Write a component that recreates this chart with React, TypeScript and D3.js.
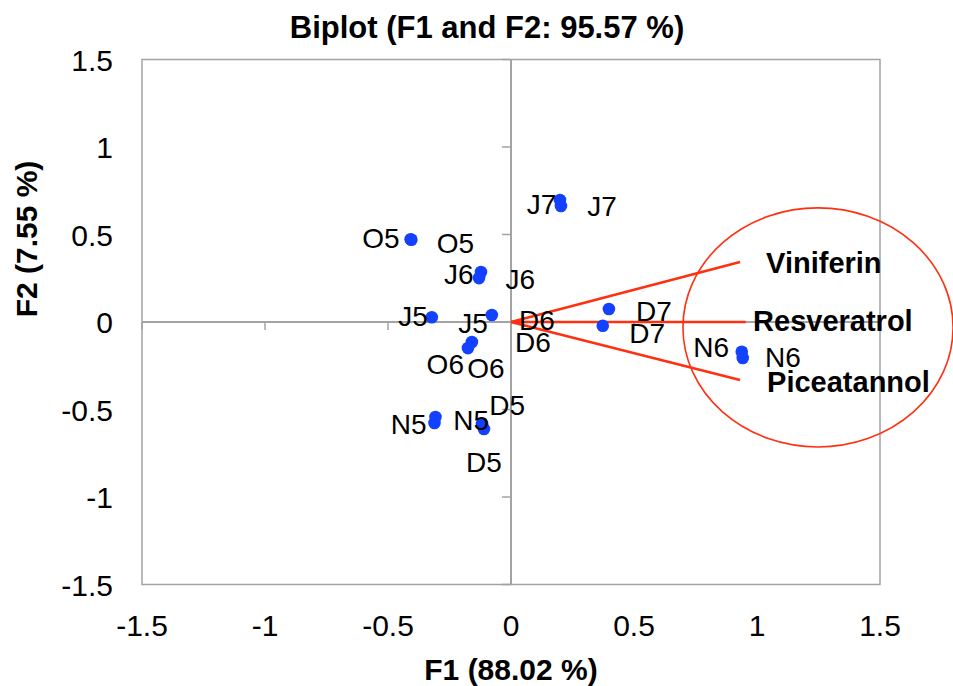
import React from "react";
import * as d3 from "d3";

// Observations (F1, F2 scores)
const obsNames = ["O5", "O5", "J7", "J7", "J6", "J6", "J5", "J5", "O6", "O6", "N5", "N5", "D5", "D5", "D7", "D7", "N6", "N6"];
const obsF1 = [-0.408, -0.405, 0.199, 0.203, -0.122, -0.130, -0.322, -0.078, -0.159, -0.175, -0.307, -0.311, -0.118, -0.110, 0.398, 0.373, 0.938, 0.942];
const obsF2 = [0.473, 0.470, 0.697, 0.663, 0.286, 0.251, 0.027, 0.040, -0.114, -0.149, -0.543, -0.577, -0.583, -0.611, 0.074, -0.021, -0.170, -0.206];

// Observation label anchors (data coordinates)
const labelTexts = ["O5", "O5", "J7", "J7", "J6", "J6", "J5", "J5", "D6", "D6", "O6", "O6", "D5", "D5", "N5", "N5", "D7", "D7", "N6", "N6"];
const labelF1 = [-0.605, -0.302, 0.064, 0.310, -0.272, -0.022, -0.458, -0.214, 0.033, 0.016, -0.343, -0.178, -0.088, -0.183, -0.489, -0.235, 0.508, 0.481, 0.741, 1.033];
const labelF2 = [0.423, 0.396, 0.615, 0.606, 0.217, 0.187, -0.023, -0.065, -0.046, -0.173, -0.299, -0.322, -0.531, -0.859, -0.642, -0.617, 0.007, -0.122, -0.202, -0.259];

// Variables (loadings)
const varNames = ["Viniferin", "Resveratrol", "Piceatannol"];
const varF1 = [0.931, 0.954, 0.931];
const varF2 = [0.343, 0.0, -0.331];
const varLabelF1 = [1.037, 0.984, 1.041];
const varLabelF2 = [0.28, -0.051, -0.40];

// Highlight ellipse (data coordinates)
const ellipseCenter = [1.248, -0.031];
const ellipseRadii = [0.549, 0.683];

const ticks = [-1.5, -1, -0.5, 0, 0.5, 1, 1.5];

const W = 953;
const H = 686;
const left = 142, right = 880, top = 59.5, bottom = 584.5;

const font = "'Liberation Sans', Arial, Helvetica, sans-serif";
const blue = "#1440ff";
const red = "#ff3010";
const grey = "#a3a3a3";

export default function App() {
  const x = d3.scaleLinear().domain([-1.5, 1.5]).range([left, right]);
  const y = d3.scaleLinear().domain([-1.5, 1.5]).range([bottom, top]);
  const fmt = (v: number) => String(v);

  return (
    <svg width={W} height={H} style={{ position: "absolute", left: 0, top: 0, background: "#fff" }} fontFamily={font}>
      <rect x={0} y={0} width={W} height={H} fill="#fff" />
      {/* plot border */}
      <rect x={left} y={top} width={right - left} height={bottom - top} fill="none" stroke={grey} strokeWidth={1.5} />
      {/* zero axes */}
      <line x1={x(-1.5)} x2={x(1.5)} y1={y(0)} y2={y(0)} stroke={grey} strokeWidth={2} />
      <line x1={x(0)} x2={x(0)} y1={y(-1.5)} y2={y(1.5)} stroke={grey} strokeWidth={2} />
      {ticks.map((t) => (
        <g key={"t" + t}>
          <line x1={x(t)} x2={x(t)} y1={y(0)} y2={y(0) + 8} stroke={grey} strokeWidth={1.5} />
          <line x1={x(0) - 9} x2={x(0)} y1={y(t)} y2={y(t)} stroke={grey} strokeWidth={1.5} />
          <text x={x(t)} y={636} textAnchor="middle" fontSize={30} fill="#000">{fmt(t)}</text>
          <text x={113} y={y(t) + 11} textAnchor="end" fontSize={30} fill="#000">{fmt(t)}</text>
        </g>
      ))}
      {/* ellipse */}
      <ellipse
        cx={x(ellipseCenter[0])}
        cy={y(ellipseCenter[1])}
        rx={x(ellipseRadii[0]) - x(0)}
        ry={y(0) - y(ellipseRadii[1])}
        fill="none"
        stroke={red}
        strokeWidth={1.6}
      />
      {/* vectors */}
      {varNames.map((n, i) => (
        <line key={"v" + n} x1={x(0)} y1={y(0)} x2={x(varF1[i])} y2={y(varF2[i])} stroke={red} strokeWidth={2.5} />
      ))}
      {varNames.map((n, i) => (
        <text key={"vl" + n} x={x(varLabelF1[i])} y={y(varLabelF2[i])} fontSize={29} fontWeight="bold" fill="#000">{n}</text>
      ))}
      {/* observations */}
      {obsNames.map((n, i) => (
        <circle key={"o" + i} cx={x(obsF1[i])} cy={y(obsF2[i])} r={6.3} fill={blue} />
      ))}
      {labelTexts.map((n, i) => (
        <text key={"l" + i} x={x(labelF1[i])} y={y(labelF2[i])} fontSize={28} fill="#000">{n}</text>
      ))}
      {/* titles */}
      <text x={487} y={38} textAnchor="middle" fontSize={31} fontWeight="bold" fill="#000">Biplot (F1 and F2: 95.57 %)</text>
      <text x={511} y={680} textAnchor="middle" fontSize={30} fontWeight="bold" fill="#000">F1 (88.02 %)</text>
      <text transform={`translate(37,239) rotate(-90)`} textAnchor="middle" fontSize={30} fontWeight="bold" fill="#000">F2 (7.55 %)</text>
    </svg>
  );
}
